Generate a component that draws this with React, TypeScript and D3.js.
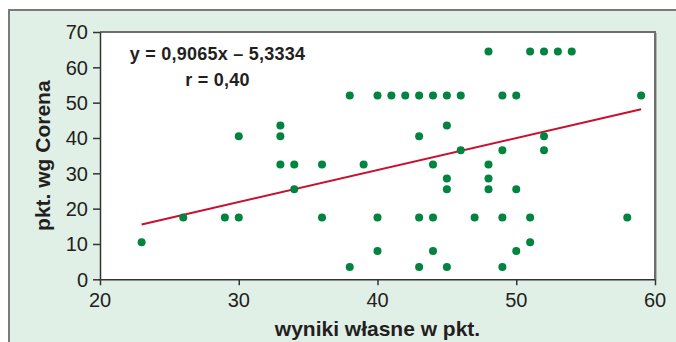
import { useEffect, useRef } from 'react';
import * as d3 from 'd3';

// wyniki własne (x) i punkty wg Corena (y)
const wynikiWlasne = [23, 26, 29, 30, 30, 33, 33, 33, 34, 34, 36, 36, 38, 38, 39, 40, 40, 40, 41, 42, 43, 43, 43, 43, 44, 44, 44, 44, 45, 45, 45, 45, 45, 46, 46, 47, 48, 48, 48, 48, 49, 49, 49, 49, 50, 50, 50, 51, 51, 51, 52, 52, 52, 53, 54, 58, 59];
const pktCorena = [10.5, 17.5, 17.5, 17.5, 40.5, 43.5, 40.5, 32.5, 32.5, 25.5, 32.5, 17.5, 52, 3.5, 32.5, 52, 17.5, 8, 52, 52, 52, 40.5, 17.5, 3.5, 52, 32.5, 17.5, 8, 52, 43.5, 28.5, 25.5, 3.5, 52, 36.5, 17.5, 64.5, 32.5, 28.5, 25.5, 52, 36.5, 17.5, 3.5, 52, 25.5, 8, 64.5, 17.5, 10.5, 64.5, 40.5, 36.5, 64.5, 64.5, 17.5, 52];

const xTicks = [20, 30, 40, 50, 60];
const yTicks = [0, 10, 20, 30, 40, 50, 60, 70];

const slope = 0.9065;
const intercept = -5.3334;
const equationText = 'y = 0,9065x – 5,3334';
const rText = 'r = 0,40';

const ScatterChart = () => {
  const svgRef = useRef<SVGSVGElement>(null);

  useEffect(() => {
    const svg = d3.select(svgRef.current);
    svg.selectAll('*').remove();

    const W = 676;
    const H = 342;
    const left = 100, right = 655, top = 32, bottom = 279.3;
    const textColor = '#231f20';
    const font = "'Liberation Sans', Arial, sans-serif";

    svg.attr('width', W).attr('height', H);

    // panel
    svg.append('rect').attr('x', 9).attr('y', 10).attr('width', W).attr('height', H).attr('fill', '#e1f0e6');
    svg.append('path').attr('d', `M9,${H} V10 H${W}`).attr('fill', 'none').attr('stroke', '#7a7a7a').attr('stroke-width', 2);

    const x = d3.scaleLinear().domain([20, 60]).range([left, right]);
    const y = d3.scaleLinear().domain([0, 70]).range([bottom, top]);

    // plot area
    svg.append('rect')
      .attr('x', left).attr('y', top)
      .attr('width', right - left).attr('height', bottom - top)
      .attr('fill', '#fff');
    svg.append('path')
      .attr('d', `M${left},${top} H${right} V${bottom}`)
      .attr('fill', 'none').attr('stroke', '#6e6e6e').attr('stroke-width', 2);
    svg.append('path')
      .attr('d', `M${right + 1.5},${top + 1} V${bottom}`)
      .attr('fill', 'none').attr('stroke', '#b5b5b5').attr('stroke-width', 1);

    // axes
    const xAxis = svg.append('g')
      .attr('transform', `translate(0,${bottom})`)
      .call(d3.axisBottom(x).tickValues(xTicks).tickSize(6).tickSizeOuter(0).tickFormat(() => ''));
    const yAxis = svg.append('g')
      .attr('transform', `translate(${left},0)`)
      .call(d3.axisLeft(y).tickValues(yTicks).tickSize(7).tickSizeOuter(0).tickFormat(() => ''));
    [xAxis, yAxis].forEach(a => {
      a.select('.domain').attr('stroke', '#333').attr('stroke-width', 1.5);
      a.selectAll('.tick line').attr('stroke', '#333').attr('stroke-width', 1.5);
    });

    svg.append('g').selectAll('text')
      .data(xTicks)
      .enter().append('text')
      .attr('x', d => x(d))
      .attr('y', 307)
      .attr('text-anchor', 'middle')
      .style('font-family', font)
      .style('font-size', '20px')
      .style('fill', textColor)
      .text(d => d);

    svg.append('g').selectAll('text')
      .data(yTicks)
      .enter().append('text')
      .attr('x', 88)
      .attr('y', d => y(d))
      .attr('dy', '0.36em')
      .attr('text-anchor', 'end')
      .style('font-family', font)
      .style('font-size', '20px')
      .style('fill', textColor)
      .text(d => d);

    // regression line
    const [xMin, xMax] = d3.extent(wynikiWlasne) as [number, number];
    const line = d3.line<number>().x(d => x(d)).y(d => y(slope * d + intercept));
    svg.append('path')
      .datum([xMin, xMax])
      .attr('d', line)
      .attr('fill', 'none')
      .attr('stroke', '#c8102e')
      .attr('stroke-width', 2);

    // points
    svg.append('g').selectAll('circle')
      .data(wynikiWlasne.map((v, i) => [v, pktCorena[i]]))
      .enter().append('circle')
      .attr('cx', d => x(d[0]))
      .attr('cy', d => y(d[1]))
      .attr('r', 4)
      .attr('fill', '#00843f');

    // equation
    svg.append('text')
      .attr('x', 217.5).attr('y', 59.5)
      .attr('text-anchor', 'middle')
      .style('font-family', font).style('font-size', '18px').style('font-weight', 'bold')
      .style('letter-spacing', '0.25px')
      .style('fill', textColor)
      .text(equationText);
    svg.append('text')
      .attr('x', 217.5).attr('y', 86)
      .attr('text-anchor', 'middle')
      .style('font-family', font).style('font-size', '18px').style('font-weight', 'bold')
      .style('letter-spacing', '0.25px')
      .style('fill', textColor)
      .text(rText);

    // axis titles
    svg.append('text')
      .attr('x', (left + right) / 2).attr('y', 336)
      .attr('text-anchor', 'middle')
      .style('font-family', font).style('font-size', '21px').style('font-weight', 'bold')
      .style('fill', textColor)
      .text('wyniki własne w pkt.');
    svg.append('text')
      .attr('transform', `translate(50,${(top + bottom) / 2}) rotate(-90)`)
      .attr('text-anchor', 'middle')
      .style('font-family', font).style('font-size', '21px').style('font-weight', 'bold')
      .style('fill', textColor)
      .text('pkt. wg Corena');
  }, []);

  return (
    <div style={{ position: 'absolute', left: 0, top: 0 }}>
      <svg ref={svgRef} style={{ display: 'block' }}></svg>
    </div>
  );
};

export default function App() {
  return <ScatterChart />;
}
